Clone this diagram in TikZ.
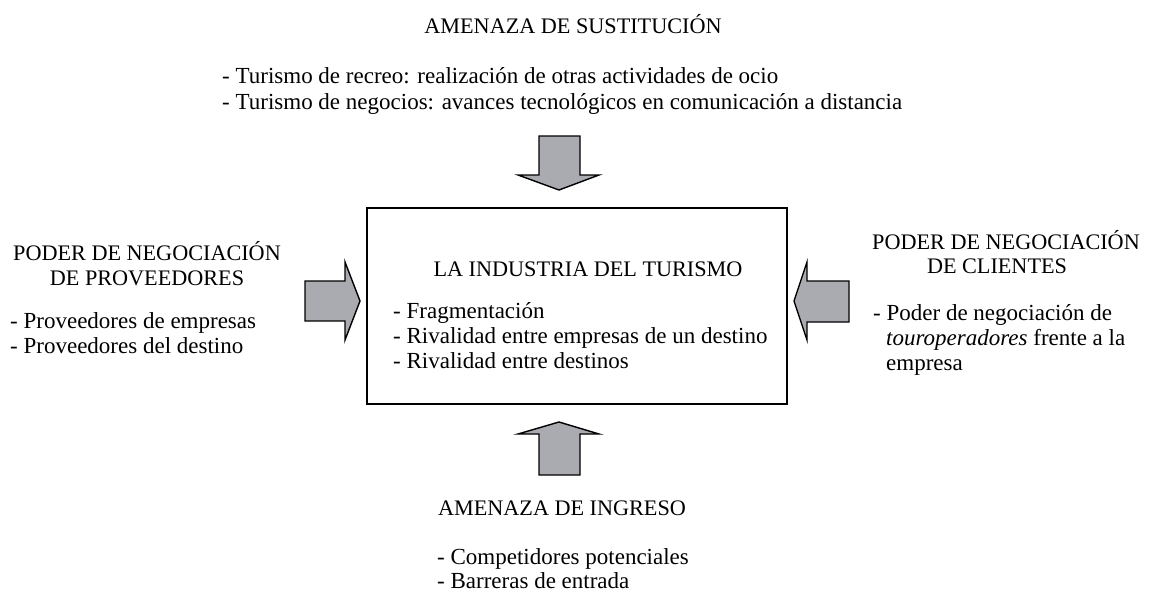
\documentclass[tikz,border=0pt]{standalone}
\usepackage{fontspec}
\setmainfont{Liberation Serif}
\definecolor{arrowgray}{RGB}{170,171,176}
\begin{document}
\begin{tikzpicture}[x=1pt,y=-1pt,
  txt/.style={inner sep=0pt,anchor=base west,font=\fontsize{23}{26}\selectfont},
  ctxt/.style={inner sep=0pt,anchor=base,font=\fontsize{22.2}{26}\selectfont},
  blockarrow/.style={fill=arrowgray,draw=black,line width=1.4pt,line join=miter},
  mainbox/.style={draw=black,line width=1.5pt,inner sep=0pt}]
\useasboundingbox (0,0) rectangle (1149,592);
\fill[white] (0,0) rectangle (1149,592);

% central box
\node[mainbox,minimum width=420pt,minimum height=196pt] (box) at (577,306) {};
\node[ctxt] (boxtitle) at (588,276) {LA INDUSTRIA DEL TURISMO};
\node[txt] (b1) at (393,318) {- Fragmentación};
\node[txt] (b2) at (393,343) {- Rivalidad entre empresas de un destino};
\node[txt] (b3) at (393,368) {- Rivalidad entre destinos};

% top
\node[ctxt] (toptitle) at (573,33) {AMENAZA DE SUSTITUCIÓN};
\node[txt] (t1) at (222,83) {- Turismo de recreo: realización de otras actividades de ocio};
\node[txt] (t2) at (222,109) {- Turismo de negocios: avances tecnológicos en comunicación a distancia};

% left
\node[ctxt] (lt1) at (147,260) {PODER DE NEGOCIACIÓN};
\node[ctxt] (lt2) at (147,285) {DE PROVEEDORES};
\node[txt] (l1) at (10,328) {- Proveedores de empresas};
\node[txt] (l2) at (10,353) {- Proveedores del destino};

% right
\node[ctxt] (rt1) at (1006,249) {PODER DE NEGOCIACIÓN};
\node[ctxt] (rt2) at (997,273) {DE CLIENTES};
\node[txt] (r1) at (873,320) {- Poder de negociación de};
\node[txt] (r2) at (886,345) {\textit{touroperadores} frente a la};
\node[txt] (r3) at (886,370) {empresa};

% bottom
\node[ctxt] (bt) at (562,515) {AMENAZA DE INGRESO};
\node[txt] (bo1) at (437,564) {- Competidores potenciales};
\node[txt] (bo2) at (437,588) {- Barreras de entrada};

% block arrows
\draw[blockarrow] (539,136) -- (580,136) -- (580,175) -- (599,175) -- (559,190) -- (518,175) -- (539,175) -- cycle;
\draw[blockarrow] (539,475) -- (580,475) -- (580,434) -- (599,434) -- (559,422) -- (518,434) -- (539,434) -- cycle;
\draw[blockarrow] (305,281) -- (345,281) -- (345,262) -- (360,301) -- (345,340) -- (345,321) -- (305,321) -- cycle;
\draw[blockarrow] (849,281) -- (807,281) -- (807,262) -- (794,301) -- (807,340) -- (807,322) -- (849,322) -- cycle;
\end{tikzpicture}
\end{document}
